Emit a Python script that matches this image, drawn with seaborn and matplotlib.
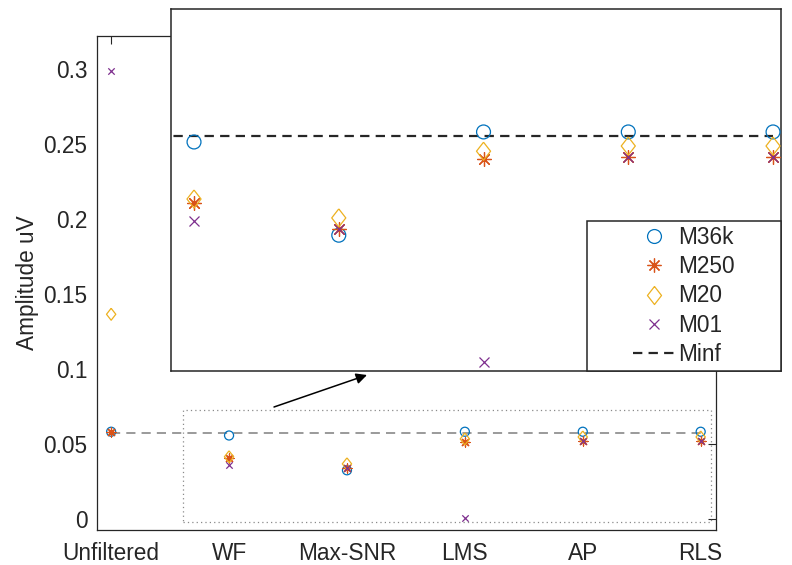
import numpy as np
import pandas as pd
import matplotlib
matplotlib.use("Agg")
import matplotlib.pyplot as plt
from matplotlib.lines import Line2D
from matplotlib.patches import Rectangle
import seaborn as sns

# ---- data -------------------------------------------------------------
categories = ["Unfiltered", "WF", "Max-SNR", "LMS", "AP", "RLS"]
series_names = ["M36k", "M250", "M20", "M01"]
m36k = [0.0582, 0.0557, 0.0325, 0.0582, 0.0582, 0.0582]
m250 = [0.0582, 0.0405, 0.0340, 0.0514, 0.0519, 0.0519]
m20 = [0.1365, 0.0415, 0.0368, 0.0534, 0.0547, 0.0547]
m01 = [0.2990, 0.0360, 0.0340, 0.0009, 0.0519, 0.0519]
minf = 0.0571
y_ticks = [0, 0.05, 0.1, 0.15, 0.2, 0.25, 0.3]
y_tick_labels = ["0", "0.05", "0.1", "0.15", "0.2", "0.25", "0.3"]

positions = np.arange(1, len(categories) + 1)
df = pd.DataFrame({
    "method": categories * 4,
    "pos": np.tile(positions, 4),
    "series": np.repeat(series_names, len(categories)),
    "value": m36k + m250 + m20 + m01,
})

# ---- style ------------------------------------------------------------
FS = 16.3
sns.set_style("white")
plt.rcParams["font.family"] = ["Liberation Sans", "DejaVu Sans"]
plt.rcParams["font.size"] = FS
plt.rcParams["text.color"] = "#262626"
plt.rcParams["axes.labelcolor"] = "#262626"
plt.rcParams["xtick.color"] = "#262626"
plt.rcParams["ytick.color"] = "#262626"

colors = {"M36k": "#0072BD", "M250": "#D95319", "M20": "#EDB120", "M01": "#7E2F8E"}
diamond = [(0, 1), (0.78, 0), (0, -1), (-0.78, 0), (0, 1)]
markers = {"M36k": "o", "M250": (8, 2, 0), "M20": diamond, "M01": "x"}
# relative marker sizes (points) for the small main plot and the zoomed view
size_main = {"M36k": 6.5, "M250": 6.5, "M20": 8.6, "M01": 4.6}
size_zoom = {"M36k": 10, "M250": 10, "M20": 13, "M01": 7.2}
filled = {"M36k": True, "M250": False, "M20": True, "M01": False}

W, H = 792, 565
fig = plt.figure(figsize=(W / 100, H / 100), dpi=100)
fig.patch.set_facecolor("white")


def px_rect(x0, y0, x1, y1):
    return [x0 / W, 1 - y1 / H, (x1 - x0) / W, (y1 - y0) / H]


ax = fig.add_axes(px_rect(97, 36, 716, 530))
inset = fig.add_axes(px_rect(171, 9, 781, 371))


def draw_points(axis, sizes):
    for name in series_names:
        sub = df[df["series"] == name]
        kw = dict(marker=markers[name], s=sizes[name] ** 2, linewidth=0.9,
                  legend=False, zorder=3, clip_on=True)
        if filled[name]:
            kw.update(facecolor="none", edgecolor=colors[name])
        else:
            kw.update(color=colors[name])
        sns.scatterplot(data=sub, x="pos", y="value", ax=axis, **kw)


# ---- main axes ----------------------------------------------------------
sns.lineplot(x=[positions[0], positions[-1]], y=[minf, minf], ax=ax,
             color="#7f7f7f", linewidth=1.1, dashes=False, zorder=2)
ax.lines[-1].set_dashes((6, 4))
draw_points(ax, size_main)

ax.set_xlim(0.88, 6.13)
ax.set_ylim(-0.0073, 0.322)
ax.set_xticks(positions)
ax.set_xticklabels(categories)
ax.set_yticks(y_ticks)
ax.set_yticklabels(y_tick_labels)
ax.set_xlabel("")
ax.set_ylabel("Amplitude uV", labelpad=3)
ax.tick_params(direction="in", length=6, width=0.8, top=True, right=True,
               labelsize=FS)
ax.tick_params(axis="x", pad=8.5)
ax.tick_params(axis="y", pad=7)
for sp in ax.spines.values():
    sp.set_color("#262626")
    sp.set_linewidth(0.9)

# dotted outline of the magnified region
ax.add_patch(Rectangle((1.61, -0.0021), 6.09 - 1.61, 0.0727 + 0.0021,
                       fill=False, edgecolor="#8a8a8a", linewidth=0.9,
                       linestyle=(0, (1, 2.5)), zorder=1))

# arrow pointing to the magnified view
ax.annotate("", xy=(367 / W, 1 - 375 / H), xytext=(274 / W, 1 - 407 / H),
            xycoords="figure fraction", textcoords="figure fraction",
            arrowprops=dict(arrowstyle="-|>", color="black", lw=1.1,
                            mutation_scale=16, shrinkA=0, shrinkB=0))

# ---- magnified view -----------------------------------------------------
sns.lineplot(x=[positions[0], positions[-1]], y=[minf, minf], ax=inset,
             color="#262626", linewidth=1.6, dashes=False, zorder=2)
inset.lines[-1].set_dashes((4.2, 2.8))
draw_points(inset, size_zoom)
inset.set_xlim(1.841, 6.055)
inset.set_ylim(-0.0013, 0.0888)
inset.set_xticks([])
inset.set_yticks([])
inset.set_xlabel("")
inset.set_ylabel("")
inset.set_facecolor("white")
for sp in inset.spines.values():
    sp.set_color("#262626")
    sp.set_linewidth(1.1)

# ---- legend ---------------------------------------------------------------
fig.patches.append(Rectangle((587 / W, 1 - 371 / H), 194 / W, 150 / H,
                             transform=fig.transFigure, facecolor="white",
                             edgecolor="#262626", linewidth=1.1, zorder=1))
handles = []
for name in series_names:
    if filled[name]:
        h = Line2D([], [], linestyle="none", marker=markers[name],
                   markersize=size_zoom[name], markerfacecolor="none",
                   markeredgecolor=colors[name], markeredgewidth=0.9)
    else:
        h = Line2D([], [], linestyle="none", marker=markers[name],
                   markersize=size_zoom[name], color=colors[name],
                   markeredgewidth=0.9)
    handles.append(h)
handles.append(Line2D([], [], color="#262626", linewidth=1.6,
                      dashes=(4.2, 2.8)))
labels = series_names + ["Minf"]
fig.legend(handles, labels, loc="center",
           bbox_to_anchor=(684 / W, 1 - 296 / H), frameon=False,
           fontsize=FS, handlelength=1.85, handletextpad=0.15,
           labelspacing=0.27, borderpad=0)

fig.savefig("out.png", dpi=100, facecolor="white")
